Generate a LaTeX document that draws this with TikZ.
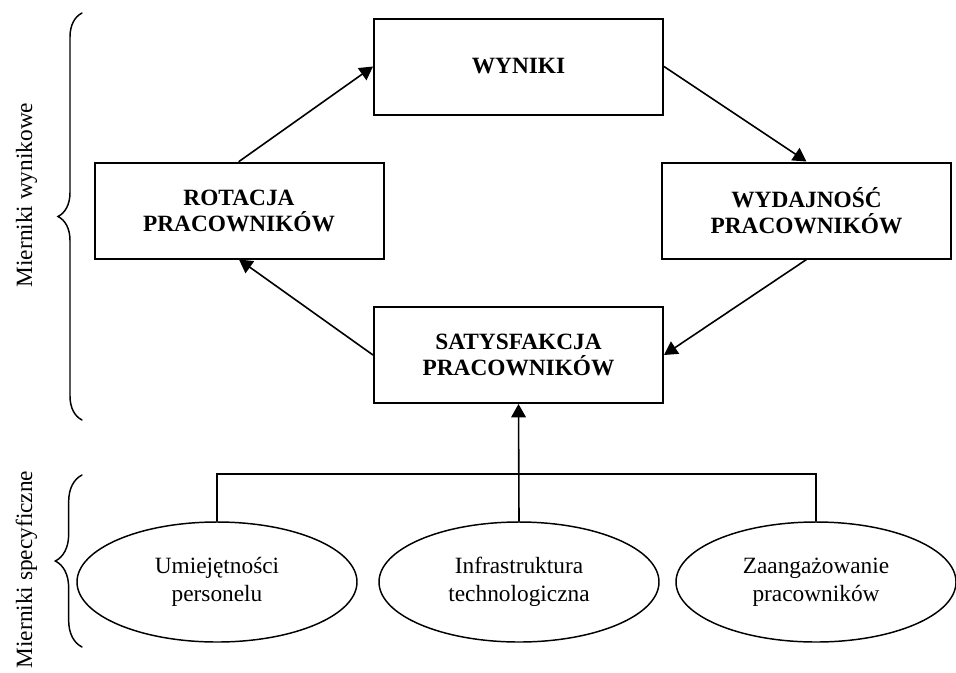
\documentclass[tikz,border=0pt]{standalone}
\usepackage{fontspec}
\setmainfont{Liberation Serif}
\usetikzlibrary{arrows.meta,shapes.geometric,decorations.pathreplacing}

\begin{document}
\begin{tikzpicture}[x=0.75pt,y=-0.75pt,line cap=round,
      font=\fontsize{17.5}{21}\selectfont,
      box/.style={draw,line width=1.5pt,minimum width=216.75pt,minimum height=72pt,
        align=center,font=\fontsize{17.5}{19.5}\selectfont\bfseries},
      owal/.style={draw,ellipse,line width=1.1pt,minimum width=210pt,minimum height=90pt,
        align=center,inner sep=0pt},
      strz/.style={line width=1.2pt,-{Triangle[length=10pt,width=11pt]}},
      klamra/.style={line width=1.1pt,decorate,decoration={brace,amplitude=#1}}]
      \useasboundingbox (0,0) rectangle (956,672);

      \node[box] (wyniki) at (518.5,66.5) {WYNIKI};
      \node[box] (rotacja) at (239,210.5) {ROTACJA\\PRACOWNIKÓW};
      \node[box] (wydajnosc) at (806.5,210.5) {WYDAJNOŚĆ\\PRACOWNIKÓW};
      \node[box] (satysfakcja) at (518.5,355) {SATYSFAKCJA\\PRACOWNIKÓW};

      \node[owal] (umiejetnosci) at (217,582) {Umiejętności\\personelu};
      \node[owal] (infrastruktura) at (519,582) {Infrastruktura\\technologiczna};
      \node[owal] (zaangazowanie) at (816,582) {Zaangażowanie\\pracowników};

      \draw[strz] (rotacja.north) -- (wyniki.west);
      \draw[strz] (wyniki.east) -- (wydajnosc.north);
      \draw[strz] (wydajnosc.south) -- (satysfakcja.east);
      \draw[strz] (satysfakcja.west) -- (rotacja.south);

      \coordinate (wezel) at (519,474);
      \draw[line width=1.2pt] (umiejetnosci.north) |- (wezel) -| (zaangazowanie.north);
      \draw[strz] (infrastruktura.north) -- (satysfakcja.south);

      \draw[klamra=18pt] (82,420) -- (82,13);
      \draw[klamra=20pt] (82,647) -- (82,475);
      \node[rotate=90,anchor=base] (wynikowe) at (32,195) {Mierniki wynikowe};
      \node[rotate=90,anchor=base east] (specyficzne) at (32,466) {Mierniki specyficzne};
\end{tikzpicture}
\end{document}
